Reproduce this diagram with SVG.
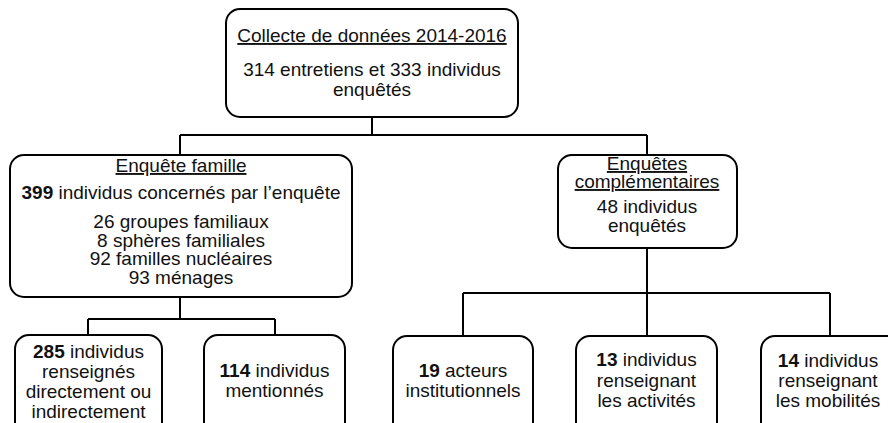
<svg xmlns="http://www.w3.org/2000/svg" width="888" height="423" viewBox="0 0 888 423">
<style>
.box{fill:#fff;stroke:#000;stroke-width:2}
.conn{fill:none;stroke:#000;stroke-width:2}
text{font-family:"Liberation Sans",Arial,sans-serif;font-size:19px;fill:#111;text-anchor:middle}
.u{text-decoration:underline}
.b{font-weight:bold}
</style>
<rect width="888" height="423" fill="#fff"/>
<g id="connectors">
<path class="conn" d="M372 117V135M180 135H647M180 135V155M647 135V155"/>
<path class="conn" d="M180 297V319M88 319H275M88 319V335M275 319V335"/>
<path class="conn" d="M647 248V336M463 293H830M463 293V336M830 293V336"/>
</g>
<g id="collecte">
<rect class="box" x="226" y="9" width="292" height="108" rx="14"/>
<text x="372" y="42" class="u">Collecte de données 2014-2016</text>
<text x="372" y="76">314 entretiens et 333 individus</text>
<text x="372" y="96">enquêtés</text>
</g>
<g id="famille">
<rect class="box" x="10" y="155" width="342" height="142" rx="14"/>
<text x="181" y="172" class="u">Enquête famille</text>
<text x="181" y="199"><tspan class="b">399</tspan> individus concernés par l’enquête</text>
<text x="181" y="228">26 groupes familiaux</text>
<text x="181" y="246.5">8 sphères familiales</text>
<text x="181" y="265">92 familles nucléaires</text>
<text x="181" y="283.5">93 ménages</text>
</g>
<g id="complementaires">
<rect class="box" x="558" y="155" width="179" height="93" rx="14"/>
<text x="647" y="170" class="u">Enquêtes</text>
<text x="647" y="188" class="u">complémentaires</text>
<text x="647" y="213">48 individus</text>
<text x="647" y="232">enquêtés</text>
</g>
<g id="renseignes">
<rect class="box" x="15" y="335" width="147" height="110" rx="14"/>
<text x="88.5" y="358"><tspan class="b">285</tspan> individus</text>
<text x="88.5" y="378">renseignés</text>
<text x="88.5" y="398">directement ou</text>
<text x="88.5" y="418">indirectement</text>
</g>
<g id="mentionnes">
<rect class="box" x="204" y="335" width="141" height="110" rx="14"/>
<text x="274.5" y="377"><tspan class="b">114</tspan> individus</text>
<text x="274.5" y="397">mentionnés</text>
</g>
<g id="acteurs">
<rect class="box" x="393" y="336" width="140" height="110" rx="14"/>
<text x="463" y="377"><tspan class="b">19</tspan> acteurs</text>
<text x="463" y="397">institutionnels</text>
</g>
<g id="activites">
<rect class="box" x="576" y="336" width="141" height="110" rx="14"/>
<text x="646.5" y="366"><tspan class="b">13</tspan> individus</text>
<text x="646.5" y="386.5">renseignant</text>
<text x="646.5" y="406.5">les activités</text>
</g>
<g id="mobilites">
<rect class="box" x="761" y="336" width="140" height="110" rx="14"/>
<text x="828" y="367"><tspan class="b">14</tspan> individus</text>
<text x="828" y="387">renseignant</text>
<text x="828" y="406.5">les mobilités</text>
</g>
</svg>
